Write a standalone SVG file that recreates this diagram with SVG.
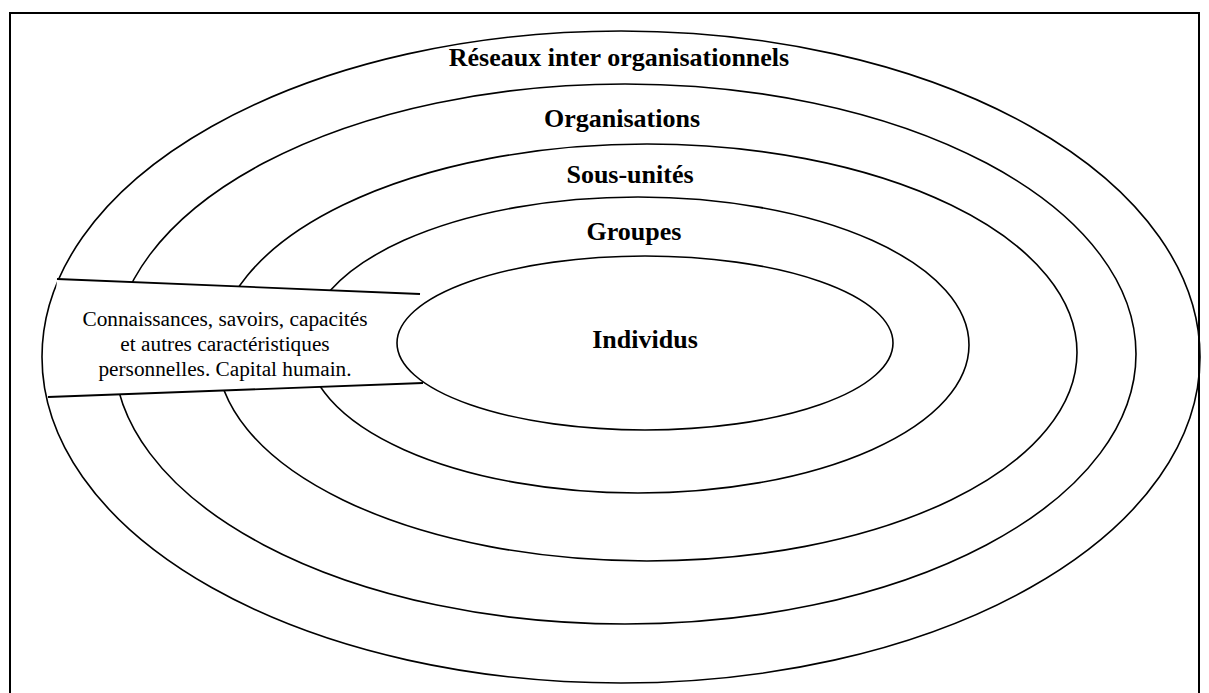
<svg xmlns="http://www.w3.org/2000/svg" width="1209" height="693" viewBox="0 0 1209 693">
  <style>
    .ring { fill: none; stroke: #000; stroke-width: 1.6; }
    .lbl { font-family: "Liberation Serif", "Times New Roman", serif; font-weight: bold; font-size: 26px; text-anchor: middle; fill: #000; }
    .small { font-family: "Liberation Serif", "Times New Roman", serif; font-size: 21.3px; text-anchor: middle; fill: #000; }
    .edge { stroke: #000; stroke-width: 1.8; fill: none; }
  </style>
  <rect x="0" y="0" width="1209" height="693" fill="#fff"/>
  <rect x="10" y="13" width="1189" height="700" fill="none" stroke="#000" stroke-width="2"/>

  <g id="reseaux">
    <ellipse class="ring" cx="621" cy="357" rx="579" ry="326"/>
    <text class="lbl" x="619" y="66">Réseaux inter organisationnels</text>
  </g>
  <g id="organisations">
    <ellipse class="ring" cx="625" cy="354" rx="511" ry="270"/>
    <text class="lbl" x="622" y="127">Organisations</text>
  </g>
  <g id="sous-unites">
    <ellipse class="ring" cx="647" cy="352.5" rx="430" ry="208.5"/>
    <text class="lbl" x="630" y="183">Sous-unités</text>
  </g>
  <g id="groupes">
    <ellipse class="ring" cx="638" cy="345" rx="331" ry="148"/>
    <text class="lbl" x="634" y="240">Groupes</text>
  </g>

  <g id="capital-humain">
    <polygon points="57,279 421,294 423,383 48,397" fill="#fff" stroke="none"/>
    <g id="connectors">
      <line class="edge" x1="57" y1="279" x2="420" y2="294"/>
      <line class="edge" x1="48" y1="397" x2="423" y2="383"/>
    </g>
    <text class="small" x="225" y="326">Connaissances, savoirs, capacités</text>
    <text class="small" x="225" y="351">et autres caractéristiques</text>
    <text class="small" x="225" y="376">personnelles. Capital humain.</text>
  </g>

  <g id="individus">
    <ellipse class="ring" cx="645" cy="343" rx="248" ry="87" fill="#fff" style="fill:#fff"/>
    <text class="lbl" x="645" y="348">Individus</text>
  </g>
</svg>
